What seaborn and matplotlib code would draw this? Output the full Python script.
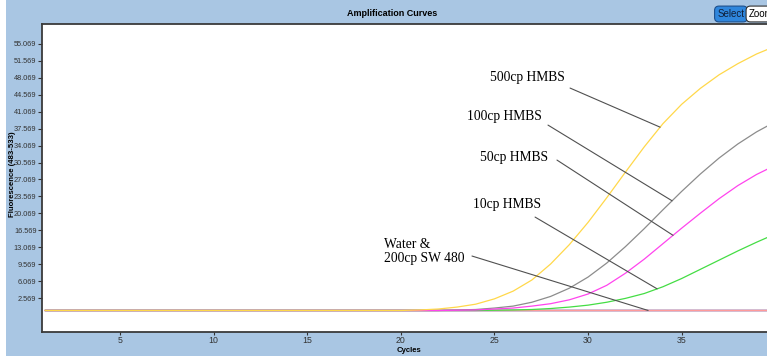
import numpy as np
import pandas as pd
import matplotlib
matplotlib.use("Agg")
import matplotlib.pyplot as plt
import seaborn as sns
from matplotlib.patches import Rectangle

# Amplification data: fluorescence (483-533) per PCR cycle
cycles = list(range(1, 41))
hmbs_500 = [0.0, 0.0, 0.0, 0.0, 0.0, 0.0, 0.0, 0.0, 0.0, 0.0,
            0.0, 0.0, 0.0, 0.0, 0.0, 0.0, 0.0, 0.0, 0.0, 0.0,
            0.1, 0.3, 0.7, 1.3, 2.4, 4.0, 6.3, 9.6, 13.6, 18.2,
            23.3, 28.6, 33.8, 38.6, 42.6, 45.9, 48.7, 51.0, 53.0, 54.6]
hmbs_100 = [0.0, 0.0, 0.0, 0.0, 0.0, 0.0, 0.0, 0.0, 0.0, 0.0,
            0.0, 0.0, 0.0, 0.0, 0.0, 0.0, 0.0, 0.0, 0.0, 0.0,
            0.0, 0.0, 0.1, 0.2, 0.5, 0.9, 1.7, 2.9, 4.6, 6.9,
            9.8, 13.2, 16.9, 20.8, 24.6, 28.2, 31.5, 34.4, 36.9, 39.0]
hmbs_50 = [0.0, 0.0, 0.0, 0.0, 0.0, 0.0, 0.0, 0.0, 0.0, 0.0,
           0.0, 0.0, 0.0, 0.0, 0.0, 0.0, 0.0, 0.0, 0.0, 0.0,
           0.0, 0.0, 0.05, 0.1, 0.3, 0.5, 0.9, 1.4, 2.2, 3.4,
           5.2, 7.7, 10.6, 13.8, 17.0, 20.1, 23.1, 25.8, 28.1, 30.0]
hmbs_10 = [0.0, 0.0, 0.0, 0.0, 0.0, 0.0, 0.0, 0.0, 0.0, 0.0,
           0.0, 0.0, 0.0, 0.0, 0.0, 0.0, 0.0, 0.0, 0.0, 0.0,
           0.0, 0.0, 0.0, 0.0, 0.05, 0.1, 0.2, 0.4, 0.7, 1.1,
           1.7, 2.5, 3.5, 4.9, 6.6, 8.5, 10.4, 12.3, 14.1, 15.8]
water = [0.0, 0.0, 0.0, 0.0, 0.0, 0.0, 0.0, 0.0, 0.0, 0.0,
         0.0, 0.0, 0.0, 0.0, 0.0, 0.0, 0.0, 0.0, 0.0, 0.0,
         0.0, 0.0, 0.0, 0.0, 0.0, 0.0, 0.0, 0.0, 0.0, 0.0,
         0.0, 0.0, 0.0, 0.0, 0.0, 0.0, 0.0, 0.0, 0.0, 0.0]
sw480_a = [0.0, 0.0, 0.0, 0.0, 0.0, 0.0, 0.0, 0.0, 0.0, 0.0,
           0.0, 0.0, 0.0, 0.0, 0.0, 0.0, 0.0, 0.0, 0.0, 0.0,
           0.0, 0.0, 0.0, 0.0, 0.0, 0.0, 0.0, 0.0, 0.0, 0.0,
           0.0, 0.0, 0.0, 0.0, 0.0, 0.0, 0.0, 0.0, 0.0, 0.0]
sw480_b = [0.0, 0.0, 0.0, 0.0, 0.0, 0.0, 0.0, 0.0, 0.0, 0.0,
           0.0, 0.0, 0.0, 0.0, 0.0, 0.0, 0.0, 0.0, 0.0, 0.0,
           0.0, 0.0, 0.0, 0.0, 0.0, 0.0, 0.0, 0.0, 0.0, 0.0,
           0.0, 0.0, 0.0, 0.0, 0.0, 0.0, 0.0, 0.0, 0.0, 0.0]
sw480_c = [0.0, 0.0, 0.0, 0.0, 0.0, 0.0, 0.0, 0.0, 0.0, 0.0,
           0.0, 0.0, 0.0, 0.0, 0.0, 0.0, 0.0, 0.0, 0.0, 0.0,
           0.0, 0.0, 0.0, 0.0, 0.0, 0.0, 0.0, 0.0, 0.0, 0.0,
           0.0, 0.0, 0.0, 0.0, 0.0, 0.0, 0.0, 0.0, 0.0, 0.0]

yticks = [2.569 + 3.5 * k for k in range(16)]
xticks = [5, 10, 15, 20, 25, 30, 35]

series = {
    "Water": (water, "#ff3030"),
    "SW480 a": (sw480_a, "#4a70e0"),
    "SW480 b": (sw480_b, "#303090"),
    "SW480 c": (sw480_c, "#ff9a9a"),
    "10cp HMBS": (hmbs_10, "#44dd44"),
    "100cp HMBS": (hmbs_100, "#8c8c8c"),
    "50cp HMBS": (hmbs_50, "#ff44ee"),
    "500cp HMBS": (hmbs_500, "#ffd84a"),
}
order = list(series.keys())
df = pd.concat(
    [pd.DataFrame({"Cycle": cycles, "Fluorescence": vals, "Sample": name})
     for name, (vals, _) in series.items()],
    ignore_index=True,
)
palette = {name: col for name, (_, col) in series.items()}

bg = "#a9c6e3"
W, H = 767, 358
fig = plt.figure(figsize=(W / 100, H / 100), dpi=100, facecolor=bg)
fig.patches.append(Rectangle((0, 0), 6 / W, 1, transform=fig.transFigure,
                             facecolor="white", edgecolor="none", zorder=0))
fig.patches.append(Rectangle((0, 0), 1, 2 / H, transform=fig.transFigure,
                             facecolor="white", edgecolor="none", zorder=0))

ax = fig.add_axes([42 / W, (H - 332) / H, (W - 42) / W, (332 - 24) / H])
ax.set_facecolor("white")

sns.lineplot(data=df, x="Cycle", y="Fluorescence", hue="Sample",
             hue_order=order, palette=palette, estimator=None, sort=False,
             linewidth=0.9, legend=False, ax=ax)

ax.set_xlim(0.83, 39.56)
ax.set_ylim(-4.45, 59.2)
ax.set_xticks(xticks)
ax.set_xticklabels([str(t) for t in xticks])
ax.set_yticks(yticks)
ax.set_yticklabels([f"{t:.3f}" for t in yticks])
ax.tick_params(axis="y", labelsize=5.3, length=3, width=0.8, colors="#333333",
               pad=1)
ax.tick_params(axis="x", labelsize=6.3, length=2.5, width=0.8,
               colors="#333333", pad=0.5)
for lab in ax.get_xticklabels() + ax.get_yticklabels():
    lab.set_fontfamily("Liberation Sans")
ax.set_xlabel("")
ax.set_ylabel("")
for side in ("left", "bottom", "top"):
    ax.spines[side].set_color("#3a3a3a")
    ax.spines[side].set_linewidth(1.3)
ax.spines["right"].set_visible(False)

# Sample labels with leader lines to the curves
serif = "Liberation Serif"
labels = [
    ("500cp HMBS", (24.77, 48.23), (29.04, 45.96), 33.85, hmbs_500),
    ("100cp HMBS", (23.54, 40.17), (27.86, 38.31), 34.49, hmbs_100),
    ("50cp HMBS", (24.23, 31.70), (28.34, 31.08), 34.54, hmbs_50),
    ("10cp HMBS", (23.86, 21.99), (27.17, 19.30), 33.69, hmbs_10),
    ("Water &\n200cp SW 480", (19.10, 12.18), (23.80, 11.25), 33.21, water),
]
for text, tpos, start, end_cycle, vals in labels:
    ax.text(tpos[0], tpos[1], text, ha="left", va="center", fontsize=9.8,
            family=serif, color="black", linespacing=1.15)
    end = (end_cycle, float(np.interp(end_cycle, cycles, vals)))
    ax.annotate("", xy=end, xytext=start,
                arrowprops=dict(arrowstyle="-", color="#505050", lw=0.8,
                                shrinkA=0, shrinkB=0))

fig.text(392 / W, 1 - 14 / H, "Amplification Curves", ha="center",
         va="center", fontsize=6.5, fontweight="bold", family="Liberation Sans")
fig.text(409 / W, 1 - 350 / H, "Cycles", ha="center", va="center",
         fontsize=5.6, fontweight="bold", family="Liberation Sans")
fig.text(12 / W, 1 - 174 / H, "Fluorescence (483-533)", ha="center",
         va="center", rotation=90, fontsize=5.6, fontweight="bold",
         family="Liberation Sans")

fig.text(731 / W, 1 - 14 / H, "Select", ha="center", va="center",
         fontsize=7, family="Liberation Sans", color="#10203a",
         bbox=dict(boxstyle="round,pad=0.3,rounding_size=0.45",
                   facecolor="#2f86dc", edgecolor="#1d4f8c", lw=0.8))
fig.text(749 / W, 1 - 14 / H, "Zoom", ha="left", va="center",
         fontsize=7, family="Liberation Sans", color="black",
         bbox=dict(boxstyle="round,pad=0.3,rounding_size=0.45",
                   facecolor="white", edgecolor="#333333", lw=0.8))

fig.savefig("out.png", dpi=100, facecolor=bg)
